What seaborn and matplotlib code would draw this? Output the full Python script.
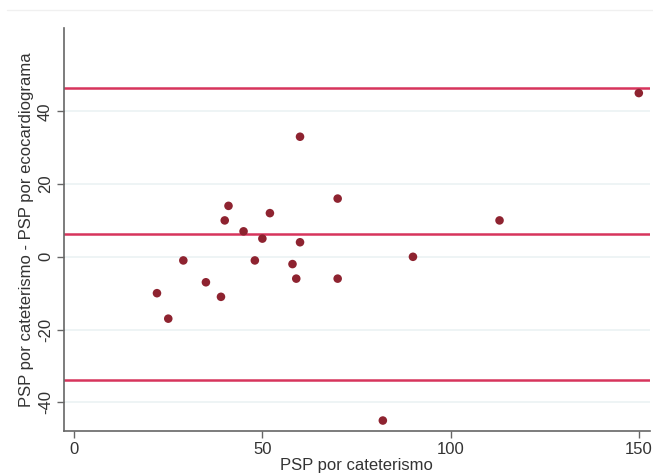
import matplotlib
matplotlib.use("Agg")
import matplotlib.pyplot as plt
import seaborn as sns
import pandas as pd
from matplotlib.lines import Line2D

# Data (Bland-Altman style plot)
psp_cateterismo = [22, 25, 29, 35, 39, 40, 41, 45, 48, 50, 52, 58, 59, 60, 60,
                   70, 70, 82, 90, 113, 150]
diferencia = [-10, -17, -1, -7, -11, 10, 14, 7, -1, 5, 12, -2, -6, 33, 4,
              16, -6, -45, 0, 10, 45]
media_diferencia = 6.2
limite_superior = 46.3
limite_inferior = -33.9
x_ticks = [0, 50, 100, 150]
y_ticks = [-40, -20, 0, 20, 40]

df = pd.DataFrame({"x": psp_cateterismo, "y": diferencia})

sns.set_theme(style="white")
plt.rcParams["font.family"] = ["Liberation Sans", "DejaVu Sans"]

fig = plt.figure(figsize=(6.53, 4.74), dpi=100)
ax = fig.add_axes([0.098, 0.0913, 0.897, 0.849])

grid_color = "#edf3f5"
for yt in y_ticks:
    ax.axhline(yt, color=grid_color, lw=1.3, zorder=0)

line_color = "#d7345c"
for yv in (limite_superior, media_diferencia, limite_inferior):
    ax.axhline(yv, color=line_color, lw=1.8, zorder=1)

sns.scatterplot(data=df, x="x", y="y", ax=ax, color="#8e2330", s=38,
                edgecolor="none", zorder=3, legend=False)

ax.set_xlim(-2.7, 152.9)
ax.set_ylim(-47.8, 62.8)
ax.set_xticks(x_ticks)
ax.set_yticks(y_ticks)
ax.set_xticklabels([str(t) for t in x_ticks], fontsize=12, color="#333333")
ax.set_yticklabels([str(t) for t in y_ticks], fontsize=12, color="#333333",
                   rotation=90, va="center")

ax.set_xlabel("PSP por cateterismo", fontsize=12, color="#333333", labelpad=1)
ax.set_ylabel("PSP por cateterismo - PSP por ecocardiograma", fontsize=12,
              color="#333333", labelpad=3)

for side in ("top", "right"):
    ax.spines[side].set_visible(False)
for side in ("left", "bottom"):
    ax.spines[side].set_color("#666666")
    ax.spines[side].set_linewidth(1.2)

ax.tick_params(axis="both", which="major", direction="out", length=5,
               width=1, color="#666666", pad=3, left=True, bottom=True)

fig.add_artist(Line2D([0.011, 1.0], [0.979, 0.979], transform=fig.transFigure,
                      color="#f0f0f0", lw=1))

fig.savefig("out.png", dpi=100, facecolor="white")
